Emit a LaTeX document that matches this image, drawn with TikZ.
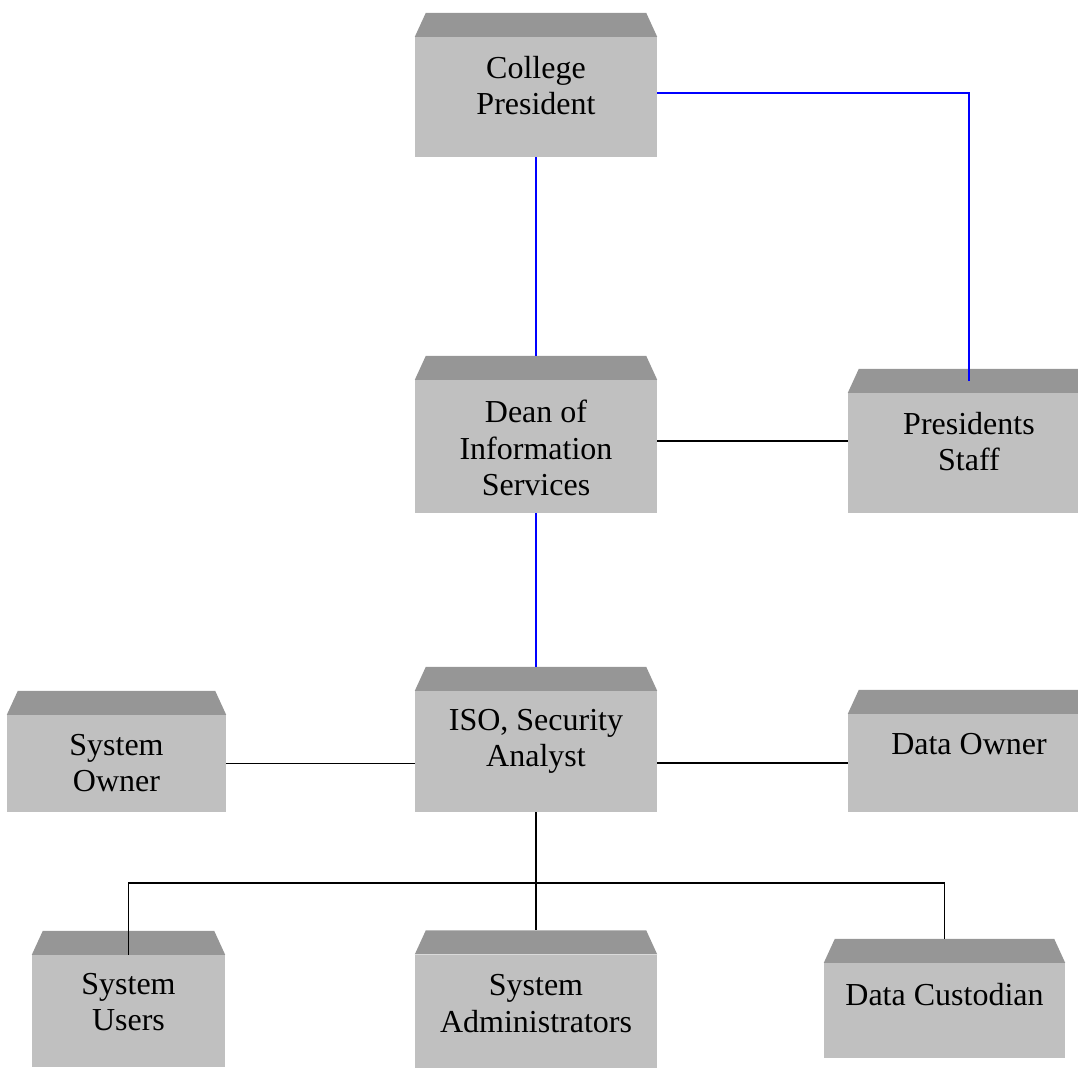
\documentclass[tikz,border=0pt]{standalone}
\usepackage{fontspec}
\setmainfont{Liberation Serif}
\usepackage{tikz}
\definecolor{facegray}{HTML}{C0C0C0}
\definecolor{roofgray}{HTML}{969696}
\tikzset{
	unit/.style={shape=rectangle, fill=facegray, inner sep=0pt},
	caption/.style={anchor=north, inner sep=0pt, align=center, font=\fontsize{32}{36.5}\selectfont},
	bluelink/.style={-, line width=1.5pt, draw=blue},
	blacklink/.style={-, line width=1.5pt, draw=black},
}
\begin{document}
\begin{tikzpicture}[x=1pt,y=-1pt]
	\useasboundingbox (0,0) rectangle (1078,1069);
	\clip (0,0) rectangle (1078,1069);
	
	\node[unit, minimum width=242pt, minimum height=120pt] (pres) at (536,97) {};
	\node[unit, minimum width=242pt, minimum height=133pt] (dean) at (536,446.5) {};
	\node[unit, minimum width=242pt, minimum height=120pt] (staff) at (969,453) {};
	\node[unit, minimum width=242pt, minimum height=121pt] (iso) at (536,751.5) {};
	\node[unit, minimum width=219pt, minimum height=97pt] (sysown) at (116.5,763.5) {};
	\node[unit, minimum width=242pt, minimum height=98pt] (dataown) at (969,763) {};
	\node[unit, minimum width=193pt, minimum height=112pt] (users) at (128.5,1011) {};
	\node[unit, minimum width=242pt, minimum height=113pt] (admin) at (536,1011) {};
	\node[unit, minimum width=241pt, minimum height=95pt] (cust) at (944.5,1010.5) {};
	
	% roofs
	\foreach \n in {pres,dean,staff,iso,sysown,dataown,users,admin,cust}
		\fill[roofgray] (\n.north west) -- ([xshift=11pt,yshift=24pt]\n.north west)
			-- ([xshift=-11pt,yshift=24pt]\n.north east) -- (\n.north east) -- cycle;
	
	\node[caption] (pres-t) at ([yshift=-19pt]pres.north) {College\\President};
	\node[caption] (dean-t) at ([yshift=-20pt]dean.north) {Dean of\\Information\\Services};
	\node[caption] (staff-t) at ([yshift=-19pt]staff.north) {Presidents\\Staff};
	\node[caption] (iso-t) at ([yshift=-18pt]iso.north) {ISO, Security\\Analyst};
	\node[caption] (sysown-t) at ([yshift=-19pt]sysown.north) {System\\Owner};
	\node[caption] (dataown-t) at ([yshift=-19pt]dataown.north) {Data Owner};
	\node[caption] (users-t) at ([yshift=-18pt]users.north) {System\\Users};
	\node[caption] (admin-t) at ([yshift=-20pt]admin.north) {System\\Administrators};
	\node[caption] (cust-t) at ([yshift=-20pt]cust.north) {Data Custodian};
	
	\coordinate (bus) at (538,883);
	
	\path[bluelink] (pres.south) edge ([yshift=24pt]dean.north);
	\draw[bluelink] ([yshift=4pt]pres.east) -| ([yshift=12pt]staff.north);
	\path[blacklink] ([yshift=5.5pt]dean.east) edge ([yshift=5.5pt]dean.east -| staff.west);
	\path[bluelink] (dean.south) edge ([yshift=24pt]iso.north);
	\path[blacklink] (sysown.east) edge (sysown.east -| iso.west);
	\path[blacklink] (dataown.west -| iso.east) edge (dataown.west);
	\path[blacklink] (iso.south) edge (iso.south |- bus);
	\draw[blacklink] (users.north) -- (users.north |- bus) -- (cust.north |- bus) -- ([yshift=24pt]cust.north);
	\path[blacklink] (admin.north |- bus) edge ([yshift=24pt]admin.north);
	
\end{tikzpicture}
\end{document}
